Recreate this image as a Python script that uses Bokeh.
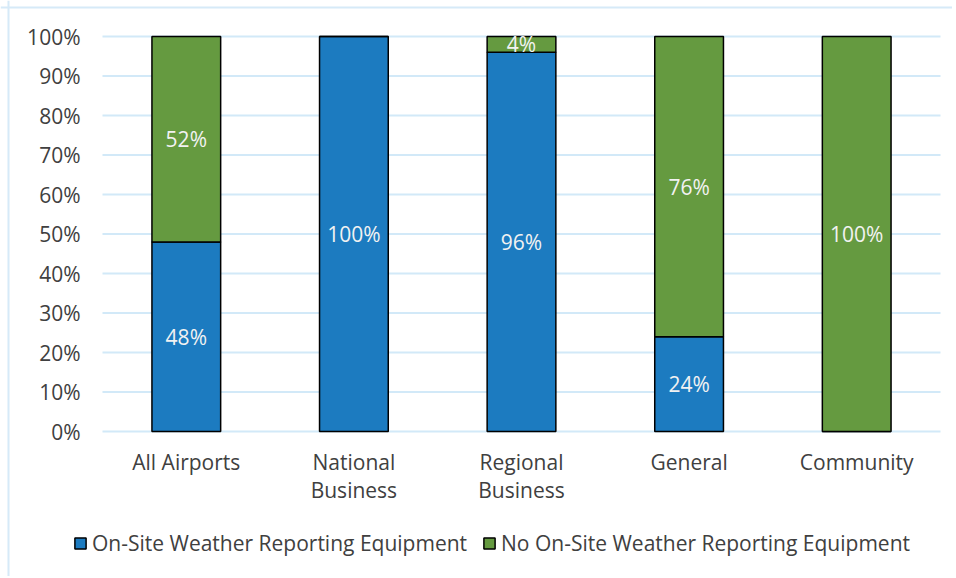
from bokeh.plotting import figure
from bokeh.models import ColumnDataSource, Legend, LegendItem, Range1d, Span
from bokeh.core.properties import value
from bokeh.embed import file_html
from bokeh.resources import INLINE

categories = ["All Airports", "National\nBusiness", "Regional\nBusiness", "General", "Community"]
on_site = [0.48, 1.00, 0.96, 0.24, 0.00]
no_on_site = [0.52, 0.00, 0.04, 0.76, 1.00]
series_names = ["On-Site Weather Reporting Equipment", "No On-Site Weather Reporting Equipment"]
y_ticks = [0, 0.1, 0.2, 0.3, 0.4, 0.5, 0.6, 0.7, 0.8, 0.9, 1.0]

BLUE = "#1c7bc0"
GREEN = "#659a40"
GRID = "#d2e9f8"
BORDER = "#d6eaf8"
TEXT = "#404040"
FONT = "Open Sans"
FS = "21px"

# layout (pixels)
W, H = 952, 576
PLOT_L, PLOT_T, PLOT_B = 102, 36, 431      # plot-area edges
CAT_PX = 167.6                              # width of one category slot
VAL_PX = PLOT_B - PLOT_T                    # pixels for 0..100%
n = len(categories)

p = figure(width=W, height=H, output_backend="svg", toolbar_location=None,
           x_axis_location=None, y_axis_location=None, min_border=0,
           x_range=Range1d(-PLOT_L / CAT_PX, (W - PLOT_L) / CAT_PX),
           y_range=Range1d(-(H - PLOT_B) / VAL_PX, PLOT_B / VAL_PX))
p.outline_line_color = None
p.grid.visible = False
p.background_fill_color = "white"

xs = [i + 0.5 for i in range(n)]

# gridlines
p.segment(x0=[0] * len(y_ticks), x1=[n] * len(y_ticks), y0=y_ticks, y1=y_ticks,
          line_color=GRID, line_width=2)

src = ColumnDataSource(dict(x=xs, on=on_site, no=no_on_site))
r = p.vbar_stack(["on", "no"], x="x", width=0.41, source=src, color=[BLUE, GREEN])
for rr in r:
    rr.glyph.line_color = "black"
    rr.glyph.line_width = 1.5

# data labels
lab_x, lab_y, lab_t = [], [], []
for xv, a, b in zip(xs, on_site, no_on_site):
    if a > 0:
        lab_x.append(xv); lab_y.append(a / 2); lab_t.append(f"{round(a*100)}%")
    if b > 0:
        lab_x.append(xv); lab_y.append(a + b / 2); lab_t.append(f"{round(b*100)}%")
p.text(x=lab_x, y=lab_y, text=lab_t, text_align="center", text_baseline="middle",
       text_color="#f2f2f2", text_font=value(FONT), text_font_size=FS)

# y tick labels
p.text(x=[0] * len(y_ticks), y=y_ticks, text=[f"{round(t*100)}%" for t in y_ticks],
       x_offset=-22, text_align="right", text_baseline="middle",
       text_color=TEXT, text_font=value(FONT), text_font_size=FS)

# category labels
p.text(x=xs, y=[0] * n, text=categories, y_offset=16, text_align="center",
       text_baseline="top", text_line_height=1.0,
       text_color=TEXT, text_font=value(FONT), text_font_size=FS)

# chart border (top and left, as in the original)
p.add_layout(Span(location=(PLOT_B - 7) / VAL_PX, dimension="width", line_color=BORDER, line_width=2))
p.add_layout(Span(location=(8 - PLOT_L) / CAT_PX, dimension="height", line_color=BORDER, line_width=2))

legend = Legend(items=[LegendItem(label=series_names[0], renderers=[r[0]]),
                       LegendItem(label=series_names[1], renderers=[r[1]])],
                orientation="horizontal", location=(73, 19),
                label_text_font=FONT, label_text_font_size=FS, label_text_color=TEXT,
                glyph_width=14, glyph_height=14, spacing=15, label_standoff=5,
                background_fill_alpha=0, border_line_color=None, padding=0, margin=0)
p.add_layout(legend, "center")

open("out.html", "w").write(file_html(p, INLINE))
